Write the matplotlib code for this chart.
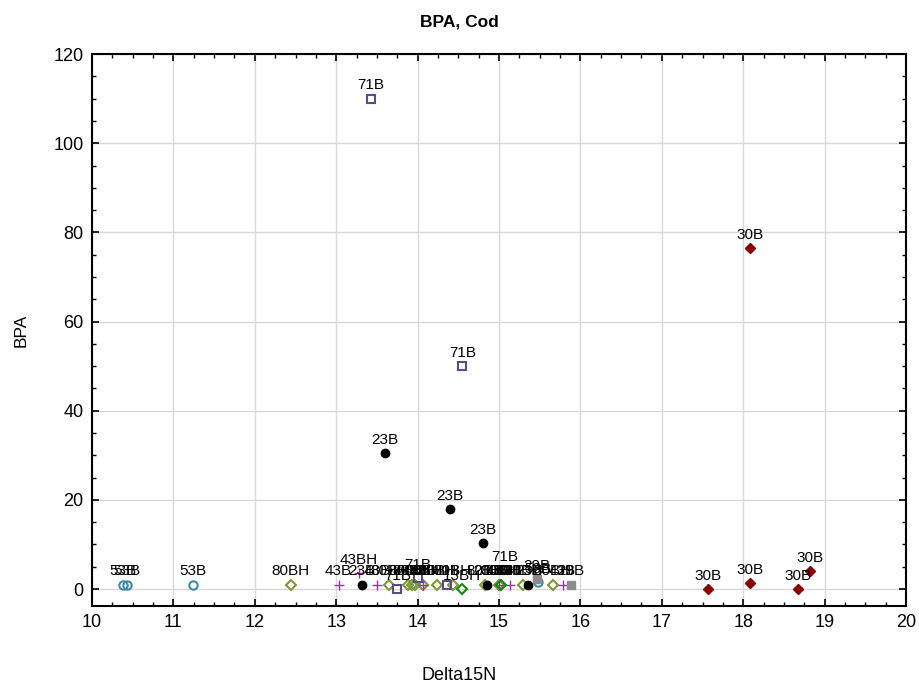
import numpy as np
import matplotlib.pyplot as plt
from matplotlib.ticker import MultipleLocator

plt.rcParams['font.family'] = ['Liberation Sans', 'DejaVu Sans']

# Data (Delta15N vs BPA, grouped by station)
x_53b = [10.38, 10.43, 11.24, 15.48]
y_53b = [1.0, 1.0, 1.0, 1.5]

x_80bh = [12.44, 13.65, 13.88, 13.93, 13.97, 14.07, 14.24, 14.43, 14.83, 15.0, 15.3, 15.66]
y_80bh = [1.0, 1.0, 1.0, 1.0, 1.0, 1.0, 1.0, 1.0, 1.0, 1.0, 1.0, 1.0]

x_43b = [13.03, 13.5, 14.07, 15.0, 15.13, 15.78]
y_43b = [1.0, 1.0, 1.0, 1.0, 1.0, 1.0]

x_43bh = [13.28]
y_43bh = [3.5]

x_23b = [13.6, 14.4, 14.8, 13.32, 14.85, 15.36]
y_23b = [30.5, 18.0, 10.3, 1.0, 1.0, 1.0]

x_71b = [13.43, 14.55, 13.75, 14.0, 14.36, 15.07]
y_71b = [110.0, 50.0, 0.0, 2.5, 1.0, 4.3]

x_13bh = [14.54, 15.03]
y_13bh = [0.0, 1.0]

x_29b = [15.47, 15.88]
y_29b = [2.3, 1.0]

x_30b = [18.08, 17.57, 18.08, 18.67, 18.82]
y_30b = [76.5, 0.0, 1.3, 0.0, 4.0]

groups = [
    ("53B", x_53b, y_53b, dict(marker='o', mfc='none', mec='#3a8ca6', mew=1.5, ms=6)),
    ("80BH", x_80bh, y_80bh, dict(marker='D', mfc='none', mec='#7c9a35', mew=1.5, ms=5)),
    ("43B", x_43b, y_43b, dict(marker='+', color='#a030a8', mew=1.0, ms=7)),
    ("43BH", x_43bh, y_43bh, dict(marker='+', color='#a030a8', mew=1.0, ms=7)),
    ("23B", x_23b, y_23b, dict(marker='o', mfc='black', mec='black', ms=6)),
    ("71B", x_71b, y_71b, dict(marker='s', mfc='none', mec='#5e4a8a', mew=1.5, ms=6)),
    ("13BH", x_13bh, y_13bh, dict(marker='D', mfc='none', mec='#108a10', mew=1.5, ms=5)),
    ("29B", x_29b, y_29b, dict(marker='s', mfc='#8c8c8c', mec='#8c8c8c', ms=6)),
    ("30B", x_30b, y_30b, dict(marker='D', mfc='#8b0000', mec='#8b0000', ms=5)),
]

fig = plt.figure(figsize=(9.19, 6.84), dpi=100)
ax = fig.add_axes([0.1001, 0.114, 0.8858, 0.807])

for label, xs, ys, style in groups:
    ax.plot(xs, ys, linestyle='none', zorder=3, **style)
    for xv, yv in zip(xs, ys):
        ax.annotate(label, (xv, yv), xytext=(0, 4.5), textcoords='offset points',
                    ha='center', va='bottom', fontsize=11, zorder=4)

ax.set_xlim(10, 20)
ax.set_ylim(-3.8, 120)
ax.xaxis.set_major_locator(MultipleLocator(1))
ax.xaxis.set_minor_locator(MultipleLocator(0.25))
ax.yaxis.set_major_locator(MultipleLocator(20))
ax.yaxis.set_minor_locator(MultipleLocator(5))
ax.tick_params(which='both', direction='in', top=True, right=True, labelsize=13)
ax.tick_params(which='major', length=5, width=1.2, pad=6)
ax.tick_params(which='minor', length=3, width=1.0)
ax.grid(True, which='major', color='#d8d8d8', linewidth=1.0, zorder=0)
ax.set_axisbelow(True)
for sp in ax.spines.values():
    sp.set_linewidth(1.5)

ax.set_ylabel('BPA', fontsize=12.5, labelpad=18)
# title and x label are centred on the figure, not the axes
fig.text(0.5, 1 - 22 / 684, 'BPA, Cod', fontsize=12.5, fontweight='bold',
         ha='center', va='center')
fig.text(0.5, 1 - 675 / 684, 'Delta15N', fontsize=13, ha='center', va='center')

fig.savefig('out.png', dpi=100)
